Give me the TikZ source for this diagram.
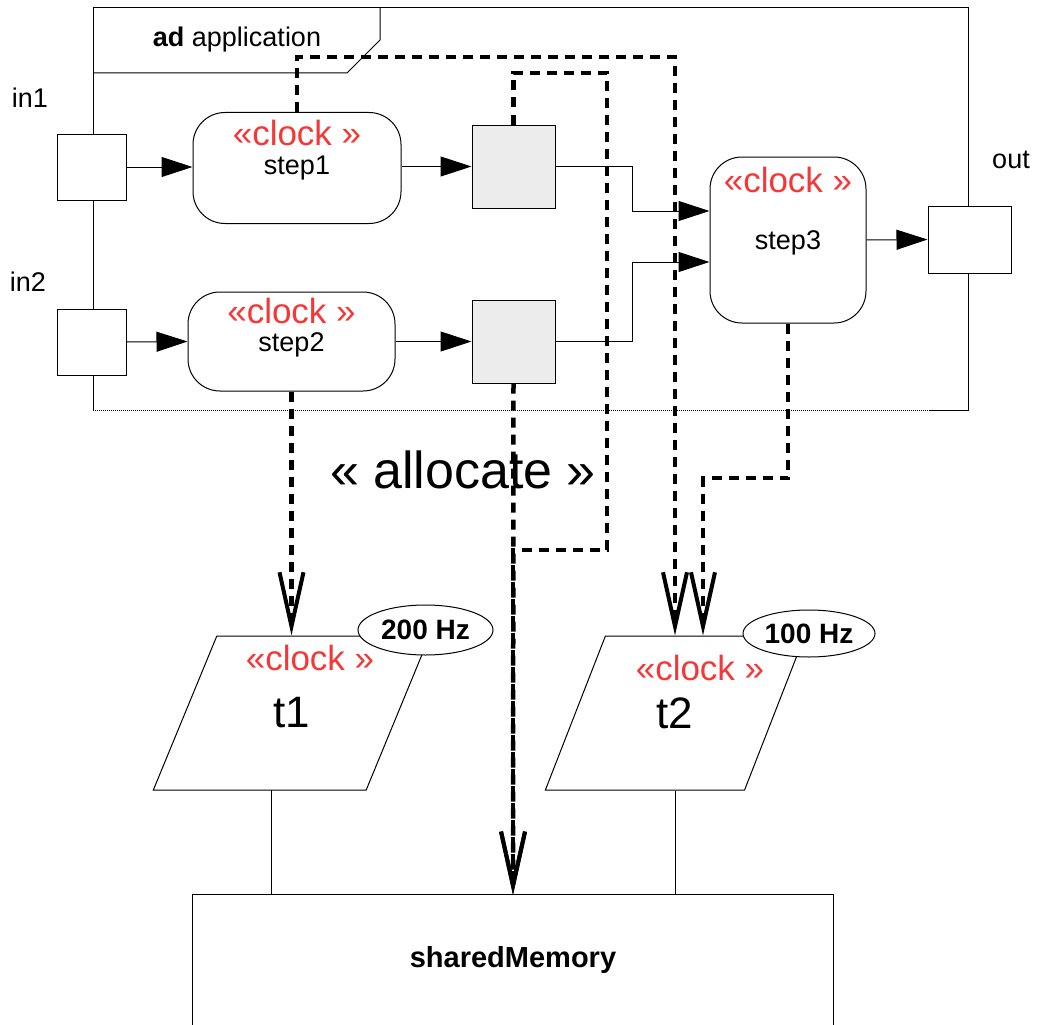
\documentclass[tikz,border=0pt]{standalone}
\usepackage{fontspec}
\setmainfont{Liberation Sans}
\usetikzlibrary{arrows.meta,positioning,calc,shapes.geometric}
\definecolor{clockRed}{RGB}{245,55,55}
\definecolor{bufferGray}{RGB}{236,236,236}

\begin{document}
\begin{tikzpicture}[x=1pt,y=-1pt,
    pin/.style={draw,fill=white,line width=1pt,minimum width=69pt,minimum height=66pt,inner sep=0pt},
    buffer/.style={draw,fill=bufferGray,line width=1pt,minimum width=83pt,minimum height=83pt,inner sep=0pt},
    action/.style={draw,fill=white,line width=1pt,rounded corners=32pt,inner sep=0pt,
                   font=\fontsize{27}{30}\selectfont},
    stereo/.style={text=clockRed,inner sep=0pt,text depth=0pt,font=\fontsize{35}{40}\selectfont},
    pinname/.style={inner sep=0pt,font=\fontsize{27}{30}\selectfont},
    thread/.style={draw,line width=1pt,trapezium,trapezium left angle=63,trapezium right angle=117,
                   trapezium stretches=true,minimum height=154pt,inner sep=0pt,
                   font=\fontsize{44}{48}\selectfont},
    rate/.style={draw,fill=white,line width=1pt,ellipse,inner sep=0pt,font=\bfseries\fontsize{28}{30}\selectfont},
    flow/.style={-{Triangle[length=31pt,width=20pt]},line width=1pt},
    alloc/.style={-{Straight Barb[length=54pt,width=24pt,line width=4pt]},line width=4.5pt,
                  dash pattern=on 10pt off 7pt}
  ]
  \useasboundingbox (0,0) rectangle (1037,1025);

  % activity frame
  \draw[line width=1pt] (93,410) -- (93,8) -- (968,8) -- (968,410) -- (930,410);
  \draw[line width=1pt,densely dotted] (930,410) -- (93,410);
  \draw[line width=1pt] (93,73) -- (347,73) -- (380,40) -- (380,8);
  \node[pinname] (tag) at (237,40) {\textbf{ad} application};

  % pins
  \node[pin] (in1pin) at (92,167) {};
  \node[pin] (in2pin) at (92,342) {};
  \node[pin,minimum width=83pt,minimum height=67pt] (outpin) at (969.5,239.5) {};
  \node[pinname] (in1name) at (30,98) {in1};
  \node[pinname] (in2name) at (28,282) {in2};
  \node[pinname] (outname) at (1011,160) {out};

  % actions
  \node[action,minimum width=208pt,minimum height=111pt] (step1) at (297,168) {step1};
  \node[stereo] (step1clk) at (297,133) {«clock »};
  \node[action,minimum width=207pt,minimum height=99pt] (step2) at (291.5,341.5) {};
  \node[inner sep=0pt,font=\fontsize{27}{30}\selectfont] (step2name) at (291.5,345) {step2};
  \node[stereo] (step2clk) at (291.5,311) {«clock »};
  \node[action,minimum width=156pt,minimum height=166pt] (step3) at (788,240) {};
  \node[inner sep=0pt,font=\fontsize{27}{30}\selectfont] (step3name) at (788,243) {step3};
  \node[stereo] (step3clk) at (788,180) {«clock »};

  \node[buffer] (buf1) at (513.5,166.5) {};
  \node[buffer] (buf2) at (513.5,341.5) {};

  % flows
  \draw[flow] (in1pin.east) -- (in1pin.east -| step1.west);
  \draw[flow] (step1.east |- buf1.west) -- (buf1.west);
  \draw[flow] (in2pin.east) -- (step2.west);
  \draw[flow] (step2.east) -- (buf2.west);
  \draw[flow] (buf1.east) -- ++(77,0) |- ($(step3.west)+(0,-29)$);
  \draw[flow] (buf2.east) -- ++(77,0) |- ($(step3.west)+(0,22)$);
  \draw[flow] (step3.east) -- (outpin.west);

  % threads and memory
  \node[thread,minimum width=277pt] (t1) at (291.5,713) {t1};
  \node[stereo] (t1clk) at (310,658) {«clock »};
  \node[rate,minimum width=135pt,minimum height=50pt] (hz1) at (425.5,630) {200 Hz};
  \node[thread,minimum width=260pt] (t2) at (675,713) {t2};
  \node[stereo] (t2clk) at (700,668) {«clock »};
  \node[rate,minimum width=132pt,minimum height=47pt] (hz2) at (809,633.5) {100 Hz};

  \node[minimum width=640pt,minimum height=130pt,inner sep=0pt,
        font=\bfseries\fontsize{29}{32}\selectfont] (mem) at (513,960) {sharedMemory};
  \draw[line width=1pt] (mem.south west) -- (mem.north west) -- (mem.north east) -- (mem.south east);

  \coordinate (t1foot) at (271,790);
  \draw[line width=0.6pt] (t1foot) -- (t1foot |- mem.north);
  \draw[line width=0.6pt] (t2.south) -- (t2.south |- mem.north);

  % allocations
  \node[font=\fontsize{52}{56}\selectfont,inner sep=0pt] (allocname) at (463,470) {« allocate »};
  \coordinate (r1) at (675,57);
  \coordinate (r2) at (607,73);
  \coordinate (r3) at (703,478);
  \draw[alloc] (step1.north) |- (r1) -- (r1 |- t2.north);
  \draw[alloc] (step2.south) -- (step2.south |- t1.north);
  \draw[alloc] (step3.south) |- (r3) -- (r3 |- t2.north);
  \draw[alloc] (buf1.north) |- (r2) -- ++(0,477) -| (mem.north);
  \draw[alloc] (buf2.south) -- (mem.north);
\end{tikzpicture}
\end{document}
